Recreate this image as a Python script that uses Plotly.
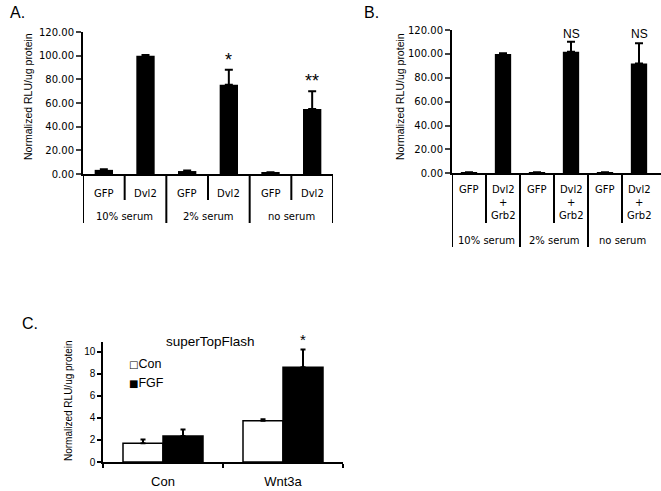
import plotly.graph_objects as go

W, H = 661, 491
def fx(px): return px / W
def fy(py): return 1 - py / H

# ---------------- data ----------------
groups = ["10% serum", "2% serum", "no serum"]
a_labels = ["GFP", "Dvl2", "GFP", "Dvl2", "GFP", "Dvl2"]
a_values = [3.5, 100.0, 2.5, 75.5, 1.0, 55.0]
a_err = [0.5, 0.5, 0.5, 12.5, 0.4, 15.0]
a_marks = ["", "", "", "*", "", "**"]

b_labels = ["GFP", "Dvl2<br>+<br>Grb2", "GFP", "Dvl2<br>+<br>Grb2", "GFP", "Dvl2<br>+<br>Grb2"]
b_values = [0.5, 100.0, 0.5, 101.8, 0.5, 92.0]
b_err = [0.3, 0.5, 0.3, 8.4, 0.3, 17.0]
b_marks = ["", "", "", "NS", "", "NS"]

c_cats = ["Con", "Wnt3a"]
c_series = ["Con", "FGF"]
c_con = [1.7, 3.75]
c_con_err = [0.35, 0.12]
c_fgf = [2.35, 8.6]
c_fgf_err = [0.6, 1.6]
c_marks = ["", "*"]

ab_ticks = [0, 20, 40, 60, 80, 100, 120]
c_ticks = [0, 2, 4, 6, 8, 10]

YTITLE = "Normalized RLU/ug protein"
TFONT = dict(family="DejaVu Sans", size=10, color="black")
AFONT = dict(family="Liberation Sans", color="black")

fig = go.Figure()
idx = list(range(len(a_labels)))

fig.add_trace(go.Bar(
    x=idx, y=a_values, width=0.44, marker=dict(color="black", line=dict(width=0)),
    error_y=dict(type="data", symmetric=False, array=a_err, arrayminus=[0] * 6,
                 color="black", thickness=2, width=4),
    xaxis="x", yaxis="y", showlegend=False))
fig.add_trace(go.Bar(
    x=idx, y=b_values, width=0.48, marker=dict(color="black", line=dict(width=0)),
    error_y=dict(type="data", symmetric=False, array=b_err, arrayminus=[0] * 6,
                 color="black", thickness=2, width=4),
    xaxis="x2", yaxis="y2", showlegend=False))
fig.add_trace(go.Bar(
    x=c_cats, y=c_con, name=c_series[0],
    marker=dict(color="white", line=dict(color="black", width=1.5)),
    error_y=dict(type="data", symmetric=False, array=c_con_err, arrayminus=[0, 0],
                 color="black", thickness=2, width=2.5),
    xaxis="x3", yaxis="y3", showlegend=False))
fig.add_trace(go.Bar(
    x=c_cats, y=c_fgf, name=c_series[1],
    marker=dict(color="black", line=dict(color="black", width=1.5)),
    error_y=dict(type="data", symmetric=False, array=c_fgf_err, arrayminus=[0, 0],
                 color="black", thickness=2, width=2.5),
    xaxis="x3", yaxis="y3", showlegend=False))

axis_common = dict(showgrid=False, zeroline=False, showline=True, linecolor="black",
                   automargin=False)

fig.update_layout(
    width=W, height=H, margin=dict(l=0, r=0, t=0, b=0, autoexpand=False),
    paper_bgcolor="white", plot_bgcolor="white",
    barmode="group", bargap=1 / 3, bargroupgap=0,
    xaxis=dict(domain=[fx(83), fx(333)], range=[-0.5, 5.5], showticklabels=False,
               ticks="", anchor="y", linewidth=2, **axis_common),
    yaxis=dict(domain=[fy(174), fy(32)], range=[0, 120], tickvals=ab_ticks,
               tickformat=".2f", ticks="outside", ticklen=5, tickwidth=2,
               tickfont=TFONT, anchor="x", linewidth=2, **axis_common),
    xaxis2=dict(domain=[fx(452), fx(661)], range=[-0.5, 5.5 + (661 - 656) / 34],
                showticklabels=False, ticks="", anchor="y2", linewidth=2, **axis_common),
    yaxis2=dict(domain=[fy(173.3), fy(30)], range=[0, 120], tickvals=ab_ticks,
                tickformat=".2f", ticks="outside", ticklen=5, tickwidth=2,
                tickfont=TFONT, anchor="x2", linewidth=2, **axis_common),
    xaxis3=dict(domain=[fx(103), fx(343)], range=[-0.5, 1.5], type="category",
                ticks="outside", tickson="boundaries", ticklen=4, tickwidth=1.5,
                tickcolor="black", ticklabelstandoff=7,
                tickfont=dict(AFONT, size=13), anchor="y3", linewidth=1.5, **axis_common),
    yaxis3=dict(domain=[fy(462), fy(341.7)], range=[0, (462 - 341.7) / 11.03],
                tickvals=c_ticks, ticks="outside", ticklen=4, tickwidth=1.5,
                tickcolor="black", tickfont=dict(AFONT, size=10), anchor="x3",
                linewidth=1.5, **axis_common),
    showlegend=False,
)

ann = []
shapes = []

def vline(xref, x, y0, y1, w=2):
    shapes.append(dict(type="line", xref=xref, yref="paper", x0=x, x1=x,
                       y0=fy(y0), y1=fy(y1), line=dict(color="black", width=w)))

# Panel A table
for i, lab in enumerate(a_labels):
    ann.append(dict(xref="x", yref="paper", x=i, y=fy(193), text=lab, showarrow=False,
                    font=TFONT, xanchor="center", yanchor="middle"))
for g, name in enumerate(groups):
    ann.append(dict(xref="x", yref="paper", x=2 * g + 0.5, y=fy(216), text=name,
                    showarrow=False, font=TFONT, xanchor="center", yanchor="middle"))
for g in range(3):
    vline("x", 2 * g + 0.5, 174, 200)
for g in range(4):
    vline("x", 2 * g - 0.5, 174, 223)
for i, m in enumerate(a_marks):
    if m:
        ann.append(dict(xref="x", yref="y", x=i, y=a_values[i] + a_err[i], text=m,
                        showarrow=False, font=dict(AFONT, size=18), yanchor="bottom",
                        yshift=-2))

# Panel B table
for i, lab in enumerate(b_labels):
    ann.append(dict(xref="x2", yref="paper", x=i, y=fy(182), text=lab, showarrow=False,
                    font=TFONT, xanchor="center", yanchor="top"))
for g, name in enumerate(groups):
    ann.append(dict(xref="x2", yref="paper", x=2 * g + 0.5, y=fy(240), text=name,
                    showarrow=False, font=TFONT, xanchor="center", yanchor="middle"))
for g in range(3):
    vline("x2", 2 * g + 0.5, 173, 223)
for g in range(3):
    vline("x2", 2 * g - 0.5, 173, 247)
for i, m in enumerate(b_marks):
    if m:
        ann.append(dict(xref="x2", yref="paper", x=i, y=fy(33.5), text=m,
                        showarrow=False, font=dict(AFONT, size=12),
                        yanchor="middle"))

# Panel C star, title and legend
for i, m in enumerate(c_marks):
    if m:
        ann.append(dict(xref="x3", yref="y3", x=i + 1 / 6, y=c_fgf[i] + c_fgf_err[i],
                        text=m, showarrow=False, font=dict(AFONT, size=15),
                        yanchor="bottom", yshift=-1))
ann.append(dict(xref="paper", yref="paper", x=fx(210), y=fy(341.5), text="superTopFlash",
                showarrow=False, font=dict(AFONT, size=13.5), xanchor="center",
                yanchor="middle"))
for k, (sym, name) in enumerate(zip(["□", "■"], c_series)):
    ann.append(dict(xref="paper", yref="paper", x=fx(127), y=fy(364 + 19 * k),
                    text=f"<span style='font-family:DejaVu Sans;font-size:10px'>{sym}</span>{name}",
                    showarrow=False, font=dict(AFONT, size=12.5), xanchor="left",
                    yanchor="middle"))

# Y titles
for xp, yp, sz in [(28, 97, 10.5), (400, 97, 10.5), (68, 401, 10)]:
    ann.append(dict(xref="paper", yref="paper", x=fx(xp), y=fy(yp), text=YTITLE,
                    textangle=-90, showarrow=False, font=dict(AFONT, size=sz),
                    xanchor="center", yanchor="middle"))

# Panel letters
for t, xp, yp in [("A.", 8, 13), ("B.", 362, 13), ("C.", 20, 323)]:
    ann.append(dict(xref="paper", yref="paper", x=fx(xp), y=fy(yp), text=t,
                    showarrow=False, font=dict(AFONT, size=16), xanchor="left",
                    yanchor="middle"))

fig.update_layout(annotations=ann, shapes=shapes)
fig.write_html("out.html", config={"displayModeBar": False},
               post_script="document.body.style.margin='0';")
